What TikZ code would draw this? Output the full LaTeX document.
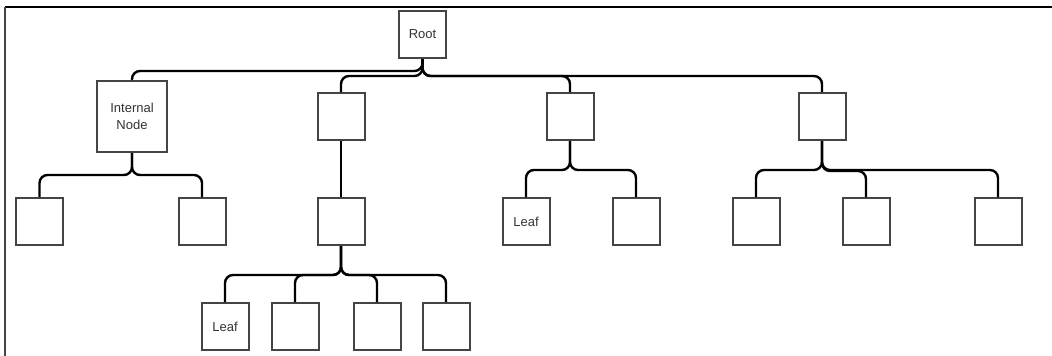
\documentclass[tikz,border=0pt]{standalone}
\usepackage{fontspec}
\setmainfont{Liberation Sans}
\begin{document}
\begin{tikzpicture}[x=1pt,y=-1pt,
  box/.style={draw=boxgray,line width=2pt,fill=white,minimum width=47pt,minimum height=47pt,inner sep=0pt,
    font=\fontsize{13}{17}\selectfont,text=txtgray,align=center},
  conn/.style={draw=black,line width=2.4pt,rounded corners=8pt}]
\definecolor{boxgray}{HTML}{444444}
\definecolor{txtgray}{HTML}{333333}
\useasboundingbox (0,0) rectangle (1052,356);
\fill[white] (0,0) rectangle (1052,356);
% frame
\draw[black,line width=1.5pt] (5,7) -- (1052,7);
\draw[boxgray,line width=2pt] (5,7) -- (5,356);
% nodes
\node[box] (root) at (422.5,34.5) {Root};
\node[box,minimum width=70pt,minimum height=71pt] (int) at (132,116.5) {Internal\\Node};
\node[box] (c2) at (341,116.5) {};
\node[box] (c3) at (570,116.5) {};
\node[box] (c4) at (822,116.5) {};
\node[box] (a) at (39.5,221.5) {};
\node[box] (b) at (202,221.5) {};
\node[box] (c) at (341,221.5) {};
\node[box] (leafa) at (526,221.5) {Leaf};
\node[box] (e) at (636,221.5) {};
\node[box] (f) at (756,221.5) {};
\node[box] (g) at (866,221.5) {};
\node[box] (h) at (998,221.5) {};
\node[box] (leafb) at (225,326.5) {Leaf};
\node[box] (k) at (295,326.5) {};
\node[box] (l) at (377,326.5) {};
\node[box] (m) at (446,326.5) {};
% root edges
\draw[conn] (root.south) -- (root.south |- 0,71) -| (int.north);
\draw[conn] (root.south) -- (root.south |- 0,76) -| (c2.north);
\draw[conn] (root.south) -- (root.south |- 0,76) -| (c3.north);
\draw[conn] (root.south) -- (root.south |- 0,76) -| (c4.north);
% internal node edges
\draw[conn] (int.south) -- (int.south |- 0,175) -| (a.north);
\draw[conn] (int.south) -- (int.south |- 0,175) -| (b.north);
% c2 edge
\draw[conn] (c2.south) -- (c.north);
% c3 edges
\draw[conn] (c3.south) -- (c3.south |- 0,170) -| (leafa.north);
\draw[conn] (c3.south) -- (c3.south |- 0,170) -| (e.north);
% c4 edges
\draw[conn] (c4.south) -- (c4.south |- 0,170) -| (f.north);
\draw[conn] (c4.south) -- (c4.south |- 0,171) -| (g.north);
\draw[conn] (c4.south) -- (c4.south |- 0,170) -| (h.north);
% c edges
\draw[conn] (c.south) -- (c.south |- 0,275) -| (leafb.north);
\draw[conn] (c.south) -- (c.south |- 0,275) -| (k.north);
\draw[conn] (c.south) -- (c.south |- 0,275) -| (l.north);
\draw[conn] (c.south) -- (c.south |- 0,275) -| (m.north);
\end{tikzpicture}
\end{document}
